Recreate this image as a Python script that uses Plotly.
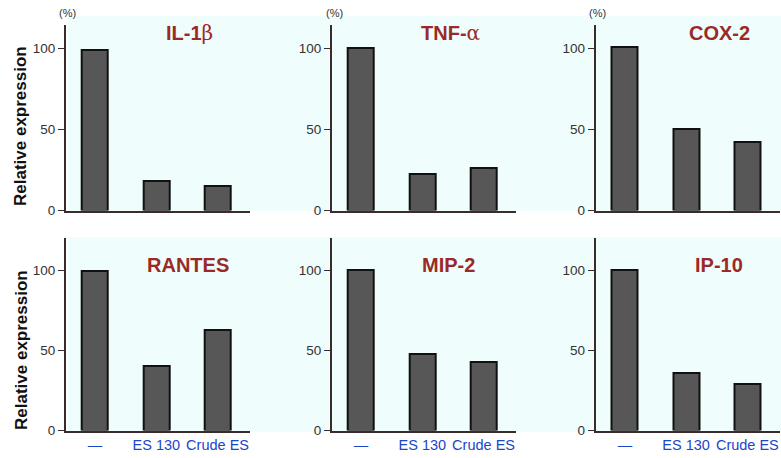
import plotly.graph_objects as go

W, H = 781, 458          # reference picture size (positions below are in its pixels)
FIG_W, FIG_H = 781, 466  # the page capture is 8px taller and is squeezed to 458

genes = ["IL-1β", "TNF-α", "COX-2", "RANTES", "MIP-2", "IP-10"]
treatments = ["—", "ES 130", "Crude ES"]
il1b = [99, 18.5, 15]
tnfa = [100, 22.5, 26]
cox2 = [101, 50, 42.5]
rantes = [99.5, 40.5, 63]
mip2 = [100.5, 48, 43]
ip10 = [100, 36, 29]
series = [il1b, tnfa, cox2, rantes, mip2, ip10]
y_ticks = [0, 50, 100]

title_html = [
    "IL-1<span style='font-family:\"DejaVu Serif\", serif;font-weight:normal'>β</span>",
    "TNF-<span style='font-family:\"DejaVu Serif\", serif;font-weight:normal'>α</span>",
    "COX-2", "RANTES", "MIP-2", "IP-10",
]


def fx(p):
    return p / W


def fy(p):
    return 1 - p / H


col_dom = [(65.7, 250.0), (331.7, 516.0), (595.5, 779.8)]
row_dom = [(210.5, 25.0), (430.5, 238.0)]
row_top = [114.4, 120.3]
title_pos = [(189, 33), (450, 33), (719, 33), (188, 265), (449, 265), (719, 265)]
pct_pos = [67, 334, 597]

FONT = "Liberation Sans, Arial, Helvetica, sans-serif"
AX = "#3b2b2b"
fig = go.Figure()
layout = {}
annotations = []

for i, vals in enumerate(series):
    r, c = divmod(i, 3)
    n = "" if i == 0 else str(i + 1)
    fig.add_trace(go.Bar(
        x=treatments, y=vals, width=0.425,
        marker=dict(color="#575757", line=dict(color="#111111", width=2)),
        xaxis="x" + n, yaxis="y" + n, showlegend=False,
        hoverinfo="x+y",
    ))
    x0, x1 = col_dom[c]
    yb, yt = row_dom[r]
    layout["xaxis" + n] = dict(
        domain=[fx(x0), min(1, fx(x1))], anchor="y" + n,
        type="category", categoryorder="array", categoryarray=treatments,
        range=[-0.48, 2.53], showline=True, linecolor=AX, linewidth=1.5,
        ticks="", showgrid=False, zeroline=False,
        showticklabels=(r == 1),
        tickfont=dict(family=FONT, size=14.5, color="#1b46c9"),
    )
    layout["yaxis" + n] = dict(
        domain=[fy(yb), fy(yt)], anchor="x" + n,
        range=[0, row_top[r]], showline=True, linecolor=AX, linewidth=1.5,
        ticks="outside", ticklen=6, tickwidth=1.3, tickcolor=AX,
        tickvals=y_ticks, showgrid=False, zeroline=False,
        tickfont=dict(family=FONT, size=13.5, color="#333333"),
    )
    tx, ty = title_pos[i]
    annotations.append(dict(
        text="<b>" + title_html[i] + "</b>", x=fx(tx), y=fy(ty),
        xref="paper", yref="paper", showarrow=False,
        xanchor="center", yanchor="middle",
        font=dict(family=FONT, size=20, color="#9b2a27"),
    ))

for px in pct_pos:
    annotations.append(dict(
        text="(%)", x=fx(px), y=fy(12.5), xref="paper", yref="paper",
        showarrow=False, xanchor="center", yanchor="middle",
        font=dict(family=FONT, size=11, color="#333333"),
    ))

for cy in [126, 350]:
    annotations.append(dict(
        text="<b>Relative expression</b>", x=fx(21), y=fy(cy),
        xref="paper", yref="paper", showarrow=False, textangle=-90,
        xanchor="center", yanchor="middle",
        font=dict(family=FONT, size=17, color="#111111"),
    ))

shapes = [
    dict(type="rect", xref="paper", yref="paper", x0=fx(68), x1=1,
         y0=fy(211), y1=fy(16), fillcolor="#effdfd", line=dict(width=0), layer="below"),
    dict(type="rect", xref="paper", yref="paper", x0=fx(68), x1=1,
         y0=fy(432), y1=fy(237), fillcolor="#effdfd", line=dict(width=0), layer="below"),
]

fig.update_layout(
    width=FIG_W, height=FIG_H, margin=dict(l=0, r=0, t=0, b=0),
    paper_bgcolor="white", plot_bgcolor="rgba(0,0,0,0)",
    annotations=annotations, shapes=shapes, bargap=0,
    font=dict(family=FONT),
    **layout,
)

# remove the browser's default 8px page margin so the figure fills the window
fig.write_html("out.html", config={"displayModeBar": False},
               post_script="document.body.style.margin='0px';")
